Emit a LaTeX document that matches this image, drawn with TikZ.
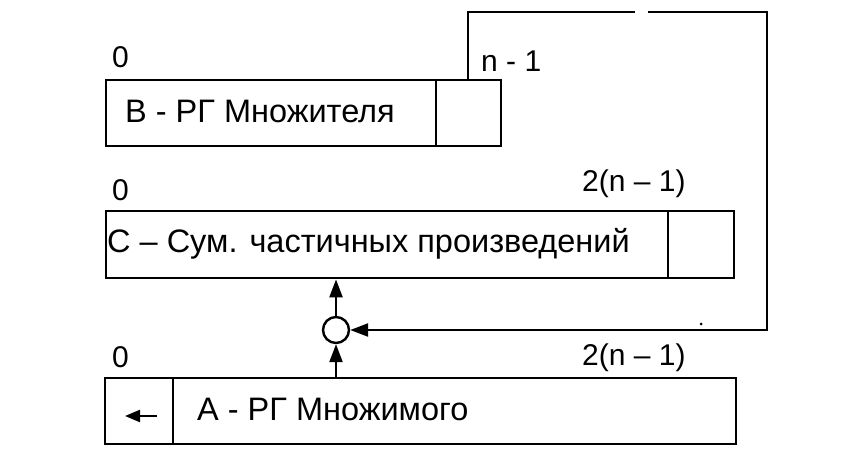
\documentclass[tikz,border=0pt]{standalone}
\usepackage{fontspec}
\setmainfont{Liberation Sans}
\usetikzlibrary{arrows.meta}
\begin{document}
\begin{tikzpicture}[x=1pt,y=-1pt,
  box/.style={draw, line width=2.4pt, inner sep=0pt, anchor=north west},
  lbl/.style={inner sep=0pt, anchor=base west, font=\fontsize{30}{34}\selectfont},
  txt/.style={inner sep=0pt, anchor=base west, font=\fontsize{32.5}{36}\selectfont},
  wire/.style={line width=2.4pt},
  arr/.style={line width=2.4pt, -{Triangle[length=18pt,width=13pt]}},
  sarr/.style={line width=2.4pt, -{Triangle[length=15pt,width=12pt]}},
]
\useasboundingbox (0,0) rectangle (852,466);
% register B
\node[box, minimum width=330pt, minimum height=66pt] (Bm) at (105,79) {};
\node[box, minimum width=65pt, minimum height=66pt] (Bc) at (435,79) {};
\node[txt] (tB) at (125,122) {В - РГ Множителя};
\node[lbl] (b0) at (112,67) {0};
\node[lbl] (bn) at (481,71) {n - 1};
% register C
\node[box, minimum width=562pt, minimum height=67pt] (Cm) at (105,210) {};
\node[box, minimum width=66pt, minimum height=67pt] (Cc) at (667,210) {};
\node[txt] (tC) at (107,252) {С – Сум. частичных произведений};
\node[lbl] (c0) at (112,200) {0};
\node[lbl] (cn) at (582,191) {2(n – 1)};
% register A
\node[box, minimum width=68pt, minimum height=66pt] (Ac) at (104,377) {};
\node[box, minimum width=563pt, minimum height=66pt] (Am) at (172,377) {};
\node[txt] (tA) at (197,420) {А - РГ Множимого};
\node[lbl] (a0) at (112,367) {0};
\node[lbl] (an) at (582,365) {2(n – 1)};
% adder
\node[draw, circle, line width=2.4pt, minimum size=26pt, inner sep=0pt] (sum) at (336,330) {};
\draw[arr] (sum.north) -- (sum |- Cm.south);
\draw[arr] (sum |- Am.north) -- (sum.south);
% feedback
\coordinate (f1) at (468,12);
\coordinate (g1) at (635,12);
\coordinate (g2) at (648,12);
\coordinate (f2) at (767,12);
\draw[wire] (f1 |- Bc.north) -- (f1) -- (g1);
\draw[arr] (g2) -- (f2) -- (f2 |- sum) -- (sum.east);
% shift arrow in A
\coordinate (s1) at (157,416);
\coordinate (s2) at (125,416);
\draw[sarr] (s1) -- (s2);
% stray dot
\node[circle, fill, inner sep=0pt, minimum size=3pt] (dot) at (701,324) {};
\end{tikzpicture}
\end{document}
